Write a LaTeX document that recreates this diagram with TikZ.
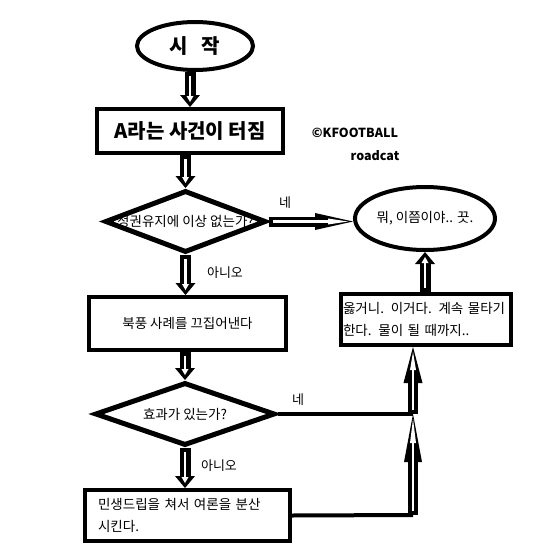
\documentclass[tikz,border=0pt]{standalone}
\usepackage{fontspec}
\setmainfont{Noto Sans CJK KR}
\usetikzlibrary{shapes.geometric,arrows.meta}
\begin{document}
\begin{tikzpicture}[x=1pt,y=-1pt,
 shp/.style={draw, line width=4pt, inner sep=0pt},
 dia/.style={draw, diamond, line width=5pt, inner sep=0pt},
 txt/.style={font=\fontsize{13.5}{22}\selectfont},
 big/.style={font=\bfseries\fontsize{20}{22}\selectfont},
 lab/.style={font=\fontsize{13}{15}\selectfont},
 credit/.style={font=\bfseries\fontsize{12.5}{15}\selectfont},
 outerarr/.style n args={3}{line width=#3, -{Triangle[length=#1,width=#2,line width=0pt]}},
 innerarr/.style n args={2}{draw=white, line width=2.5pt, shorten <=4pt, shorten >=5pt, -{Triangle[length=#1,width=#2,line width=0pt]}},
 conn/.style={line width=4pt}
]
\fill[white] (0,0) rectangle (557,557);
\useasboundingbox (0,0) rectangle (557,557);

\node[shp, ellipse, minimum width=116pt, minimum height=48pt, big] (start) at (195,46) {시\hspace{0.7em}작};
\node[shp, rectangle, minimum width=186pt, minimum height=44pt, big] (a) at (190,131) {A라는 사건이 터짐};
\node[dia, minimum width=161pt, minimum height=62pt, label={[txt]center:정권유지에 이상 없는가?}] (d1) at (185.5,221.5) {};
\node[shp, rectangle, minimum width=197pt, minimum height=53pt, txt] (b) at (187.5,323.5) {북풍 사례를 끄집어낸다};
\node[dia, minimum width=180pt, minimum height=63pt, label={[txt]center:효과가 있는가?}] (d2) at (185,414) {};
\node[shp, rectangle, minimum width=205pt, minimum height=51pt, txt, align=left, text width=179pt] (c) at (187.5,515.5) {민생드립을 쳐서 여론을 분산\\시킨다.};
\node[shp, ellipse, minimum width=140pt, minimum height=63pt, txt] (e) at (425,218.5) {뭐, 이쯤이야.. 끗.};
\node[shp, rectangle, minimum width=170pt, minimum height=51pt, txt, align=left, text width=166pt] (f) at (426,319.5) {옳거니. 이거다. 계속 물타기\\한다. 물이 될 때까지..};

\node[lab] (y1) at (285,203) {네};
\node[lab] (n1) at (225,273) {아니오};
\node[lab] (y2) at (298,400) {네};
\node[lab] (n2) at (219,466) {아니오};
\node[credit] (cp) at (355,133) {©KFOOTBALL};
\node[credit] (rc) at (375,156) {roadcat};

\coordinate (j1) at (413,414);
\coordinate (j2) at (413,515);

\draw[conn] (d2.east) -- (j1);
\draw[conn] (c.east) -- (j2);

% start -> a
\draw[outerarr={12pt}{20pt}{11pt}] (a.north |- start.south) -- (a.north);
\draw[innerarr={6pt}{7pt}] (a.north |- start.south) -- (a.north);
% a -> d1
\draw[outerarr={12pt}{20pt}{11pt}] (d1.north |- a.south) -- (d1.north);
\draw[innerarr={6pt}{7pt}] (d1.north |- a.south) -- (d1.north);
% d1 -> b
\draw[outerarr={12pt}{20pt}{11pt}] (d1.south) -- (d1.south |- b.north);
\draw[innerarr={6pt}{7pt}] (d1.south) -- (d1.south |- b.north);
% b -> d2
\draw[outerarr={12pt}{20pt}{11pt}] (d2.north |- b.south) -- (d2.north);
\draw[innerarr={6pt}{7pt}] (d2.north |- b.south) -- (d2.north);
% d2 -> c
\draw[outerarr={12pt}{20pt}{11pt}] (d2.south) -- (d2.south |- c.north);
\draw[innerarr={6pt}{7pt}] (d2.south) -- (d2.south |- c.north);
% d1 -> e
\draw[outerarr={38pt}{17pt}{10pt}] (d1.east) -- (d1.east -| e.west);
\draw[innerarr={20pt}{6pt}] (d1.east) -- (d1.east -| e.west);
% f -> e
\draw[outerarr={12pt}{20pt}{11pt}] (e.south |- f.north) -- (e.south);
\draw[innerarr={6pt}{7pt}] (e.south |- f.north) -- (e.south);
% j1 -> f
\draw[outerarr={36pt}{19pt}{10pt}] (j1) -- (j1 |- f.south);
\draw[innerarr={18pt}{6pt}] (j1) -- (j1 |- f.south);
% j2 -> j1
\draw[outerarr={48pt}{18pt}{10pt}] (j2) -- (j1);
\draw[innerarr={24pt}{6pt}] (j2) -- (j1);
\end{tikzpicture}
\end{document}
